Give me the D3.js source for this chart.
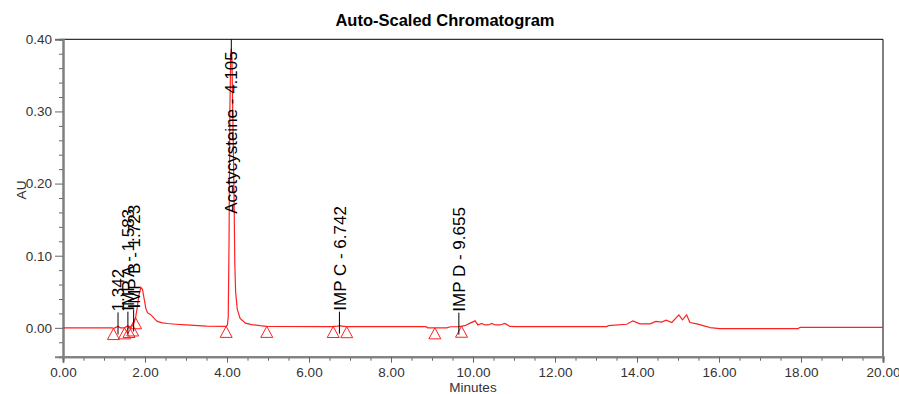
<!DOCTYPE html>
<html>
<head>
<meta charset="utf-8">
<script src="https://cdn.jsdelivr.net/npm/d3@7"></script>
<style>
  html, body { margin: 0; padding: 0; background: #fff; }
  svg { display: block; font-family: Arial, "Liberation Sans", sans-serif; }
</style>
</head>
<body>
<svg id="chart" width="899" height="394"></svg>
<script>
// Chromatogram trace (minutes, AU)
const retentionTimes = [
  0.00, 1.20, 1.23, 1.30, 1.342, 1.40, 1.50, 1.583, 1.63, 1.70, 1.723, 1.77, 1.81, 1.85, 1.90,
  1.94, 1.98, 2.02, 2.06, 2.12, 2.18, 2.24, 2.30, 2.42, 2.55, 2.75, 3.00, 3.50, 3.98,
  4.01, 4.03, 4.05, 4.07, 4.09, 4.105, 4.12, 4.14, 4.17, 4.19, 4.21, 4.25, 4.32, 4.45,
  4.60, 4.80, 4.97, 6.55, 6.70, 6.742, 6.80, 6.92, 8.85, 8.90, 9.36, 9.45, 9.655,
  9.80, 9.93, 10.05, 10.12, 10.21, 10.29, 10.37, 10.46, 10.54, 10.66, 10.78, 10.90, 11.02,
  13.26, 13.30, 13.75, 13.90, 14.07, 14.32, 14.46, 14.60, 14.71, 14.85, 15.02, 15.11,
  15.21, 15.29, 15.46, 15.70, 15.78, 16.02, 17.93, 17.98, 20.00
];
const absorbance = [
  0.000, 0.000, -0.001, 0.001, 0.002, 0.000, 0.000, 0.003, 0.001, 0.004, 0.006, 0.014, 0.028, 0.045, 0.056,
  0.053, 0.040, 0.027, 0.021, 0.019, 0.016, 0.012, 0.009, 0.007, 0.006, 0.005, 0.004, 0.0025, 0.002,
  0.004, 0.015, 0.12, 0.30, 0.375, 0.387, 0.375, 0.30, 0.19, 0.09, 0.05, 0.026, 0.013, 0.0065,
  0.0045, 0.003, 0.002, 0.0016, 0.0025, 0.003, 0.0025, 0.0016, 0.0016, 0.000, 0.000, 0.0015, 0.0016,
  0.003, 0.0065, 0.0097, 0.004, 0.006, 0.004, 0.004, 0.006, 0.004, 0.004, 0.006, 0.002, 0.0016,
  0.0016, 0.003, 0.005, 0.0097, 0.0055, 0.0055, 0.009, 0.008, 0.0106, 0.0074, 0.018, 0.0111,
  0.018, 0.0074, 0.0055, 0.0018, 0.0004, -0.001, -0.001, 0.0007, 0.0007
];

// Named peaks
const peakNames = ["", "IMP A", "IMP B", "Acetycysteine", "IMP C", "IMP D"];
const peakTimes = [1.342, 1.583, 1.723, 4.105, 6.742, 9.655];

// Integration start/stop markers
const markerTimes = [1.23, 1.50, 1.61, 1.70, 1.77, 3.98, 4.97, 6.59, 6.92, 9.07, 9.72];

const xMajorTicks = [0, 2, 4, 6, 8, 10, 12, 14, 16, 18, 20];
const yMajorTicks = [0.00, 0.10, 0.20, 0.30, 0.40];

const trace = retentionTimes.map((t, i) => ({ t, v: absorbance[i] }));

const svg = d3.select("#chart");
const margin = { left: 63, right: 16, top: 39.3, bottom: 37.3 };
const W = +svg.attr("width"), H = +svg.attr("height");

const x = d3.scaleLinear().domain([0, 20]).range([margin.left, W - margin.right]);
const y = d3.scaleLinear().domain([-0.04, 0.40]).range([H - margin.bottom, margin.top]);

const [x0, x1] = x.range();
const [yB, yT] = y.range();

// value of the trace at any time (for marker placement)
const bis = d3.bisector(d => d.t).left;
function valueAt(t) {
  const i = Math.max(1, Math.min(trace.length - 1, bis(trace, t)));
  const a = trace[i - 1], b = trace[i];
  return a.v + (b.v - a.v) * (t - a.t) / (b.t - a.t);
}

// title
svg.append("text")
  .attr("x", 445).attr("y", 26)
  .attr("text-anchor", "middle")
  .attr("font-size", 16.5).attr("font-weight", "bold")
  .text("Auto-Scaled Chromatogram");

svg.append("defs").append("clipPath").attr("id", "plot")
  .append("rect").attr("x", x0).attr("y", yT).attr("width", x1 - x0 + 1).attr("height", yB - yT);

// frame: top/right black
svg.append("line").attr("x1", x0).attr("x2", x1).attr("y1", yT).attr("y2", yT).attr("stroke", "#000");
svg.append("line").attr("x1", x1).attr("x2", x1).attr("y1", yT).attr("y2", yB).attr("stroke", "#000");

// axes
const xAxis = d3.axisBottom(x).tickValues(xMajorTicks).tickFormat(d3.format(".2f")).tickSize(6).tickPadding(5);
const xMinor = d3.axisBottom(x).tickValues(d3.range(0.5, 20, 0.5).filter(v => v % 2 !== 0)).tickFormat("").tickSize(4);
const yAxis = d3.axisLeft(y).tickValues(yMajorTicks).tickFormat(d3.format(".2f")).tickSize(8).tickPadding(3);
const yMinor = d3.axisLeft(y).tickValues(d3.range(-0.02, 0.40, 0.02).filter(v => Math.abs(Math.round(v * 100) % 10) !== 0)).tickFormat("").tickSize(4);

const gx = svg.append("g").attr("transform", `translate(0,${yB})`);
gx.call(xMinor);
gx.append("g").call(xAxis);
const gy = svg.append("g").attr("transform", `translate(${x0},0)`);
gy.call(yMinor);
gy.append("g").call(yAxis);

svg.selectAll(".domain").attr("stroke", "#808080").attr("stroke-width", 2);
svg.selectAll(".tick line").attr("stroke", "#666");
svg.selectAll(".tick text").attr("fill", "#333").attr("font-size", 13.5)
  .attr("font-family", "Arial, 'Liberation Sans', sans-serif");

// axis titles
svg.append("text")
  .attr("x", (x0 + x1) / 2).attr("y", 392)
  .attr("text-anchor", "middle").attr("font-size", 13.5).attr("fill", "#333")
  .text("Minutes");
svg.append("text")
  .attr("transform", `translate(26,${(yT + yB) / 2 - 8}) rotate(-90)`)
  .attr("text-anchor", "middle").attr("font-size", 13.5).attr("fill", "#333")
  .text("AU");

const plot = svg.append("g").attr("clip-path", "url(#plot)");

// trace
plot.append("path")
  .datum(trace)
  .attr("fill", "none")
  .attr("stroke", "#ff2020")
  .attr("stroke-width", 1.2)
  .attr("d", d3.line().x(d => x(d.t)).y(d => y(d.v)));

// integration markers (open triangles, apex on the trace)
plot.selectAll(".marker")
  .data(markerTimes)
  .join("path")
  .attr("class", "marker")
  .attr("transform", t => `translate(${x(t)},${y(valueAt(t))})`)
  .attr("d", "M0,0L6,11L-6,11Z")
  .attr("fill", "none")
  .attr("stroke", "#ff2020")
  .attr("stroke-width", 1);

// peak labels
peakTimes.forEach((t, i) => {
  const px = x(t), py = y(valueAt(t));
  const label = peakNames[i] ? `${peakNames[i]} - ${t.toFixed(3)}` : t.toFixed(3);

  plot.append("line")
    .attr("x1", px).attr("x2", px)
    .attr("y1", py - 14).attr("y2", py + 8)
    .attr("stroke", "#000");

  const txt = svg.append("text")
    .attr("font-size", 17)
    .attr("fill", "#000")
    .attr("dy", "0.36em")
    .text(label);
  const len = txt.node().getComputedTextLength();
  let bottom = py - 15;
  if (bottom - len < yT + 12) bottom = yT + 12 + len;
  txt.attr("transform", `translate(${px},${bottom}) rotate(-90)`);
});
</script>
</body>
</html>
